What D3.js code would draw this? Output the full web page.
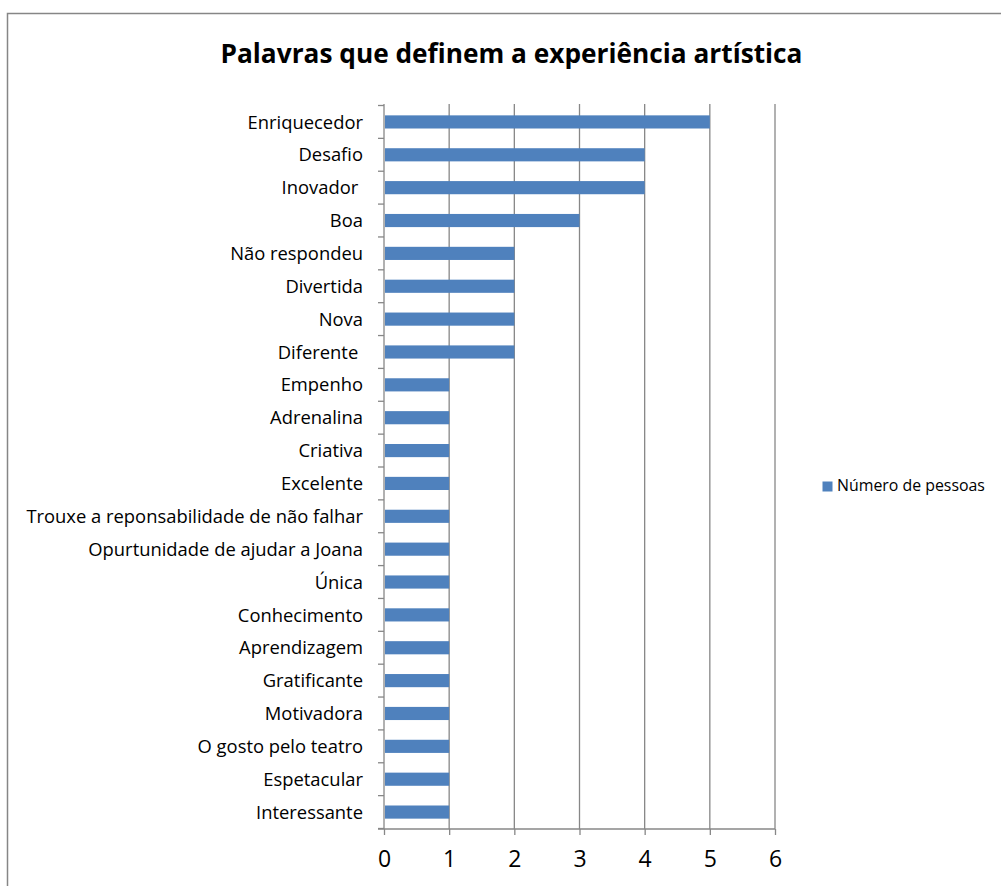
<!DOCTYPE html>
<html><head><meta charset="utf-8">
<script src="https://cdn.jsdelivr.net/npm/d3@7"></script>
<style>body{margin:0;background:#fff}svg{display:block}text{font-family:"Open Sans",sans-serif;white-space:pre}</style>
</head><body>
<script>
const categories = ["Enriquecedor","Desafio","Inovador ","Boa","Não respondeu","Divertida","Nova","Diferente ","Empenho","Adrenalina","Criativa","Excelente","Trouxe a reponsabilidade de não falhar","Opurtunidade de ajudar a Joana","Única","Conhecimento","Aprendizagem","Gratificante","Motivadora","O gosto pelo teatro","Espetacular","Interessante"];
const values = [5,4,4,3,2,2,2,2,1,1,1,1,1,1,1,1,1,1,1,1,1,1];
const xTicks = [0,1,2,3,4,5,6];
const title = "Palavras que definem a experiência artística";
const seriesName = "Número de pessoas";

const W = 1001, H = 886;
const svg = d3.select("body").append("svg").attr("width", W).attr("height", H);
svg.append("rect").attr("width", W).attr("height", H).attr("fill", "#fff");
// chart border
svg.append("path").attr("d", `M7.5,${H+5}V13.5H${W+5}`).attr("fill","none").attr("stroke","#868686").attr("stroke-width",1.5);

const x = d3.scaleLinear().domain([0,6]).range([384,775]);
const y = d3.scaleBand().domain(categories).range([105.5,828.5]).paddingInner(0.6).paddingOuter(0.3);
const grid = "#878787";

// gridlines
svg.append("g").selectAll("line").data(xTicks.slice(1)).join("line")
  .attr("x1", d=>x(d)).attr("x2", d=>x(d)).attr("y1",104).attr("y2",829)
  .attr("stroke",grid).attr("stroke-width",1.3);

// bars
svg.append("g").selectAll("rect").data(categories).join("rect")
  .attr("x", x(0)+1).attr("y", d=>y(d)).attr("height", y.bandwidth())
  .attr("width", (d,i)=>x(values[i])-x(0)-1).attr("fill","#4f81bd");

// left axis
const step = y.step();
const bounds = d3.range(categories.length+1).map(i=>105.5 + i*(723/categories.length));
svg.append("line").attr("x1",384).attr("x2",384).attr("y1",104).attr("y2",829).attr("stroke",grid).attr("stroke-width",1.3);
svg.append("g").selectAll("line").data(bounds).join("line")
  .attr("x1",378).attr("x2",384).attr("y1",d=>d).attr("y2",d=>d).attr("stroke",grid).attr("stroke-width",1.3);

// bottom axis
const xAxis = d3.axisBottom(x).tickValues(xTicks).tickSize(6).tickPadding(16).tickFormat(d3.format("d"));
const gx = svg.append("g").attr("transform","translate(0,829)").call(xAxis);
gx.select(".domain").remove();
gx.append("line").attr("x1",378).attr("x2",775).attr("stroke",grid).attr("stroke-width",1.3);
gx.selectAll(".tick line").attr("stroke",grid).attr("stroke-width",1.3);
gx.selectAll(".tick text").attr("font-size",23).attr("fill","#000").attr("font-family","Open Sans");

// category labels
const labels = svg.append("g").selectAll("text").data(categories).join("text")
  .attr("x",363).attr("y", d=>y(d)+y.bandwidth()/2).attr("dy","0.36em")
  .attr("text-anchor","end").attr("font-size",18).attr("fill","#000").text(d=>d);
// fit width of longest label
let longest = labels.filter(d=>d.startsWith("Trouxe")).node();
let fs = 18*337/longest.getComputedTextLength();
labels.attr("font-size", fs);

// title
const t = svg.append("text").attr("x",511.5).attr("y",63).attr("text-anchor","middle")
  .attr("font-size",28).attr("font-weight","bold").attr("fill","#000").text(title);
t.attr("font-size", 28*582/t.node().getComputedTextLength());

// legend
svg.append("rect").attr("x",822.5).attr("y",481.5).attr("width",10).attr("height",10).attr("fill","#4f81bd");
const lt = svg.append("text").attr("x",837).attr("y",491).attr("font-size",14).attr("fill","#000").text(seriesName);
lt.attr("font-size", 14*148/lt.node().getComputedTextLength());
</script>
</body></html>
